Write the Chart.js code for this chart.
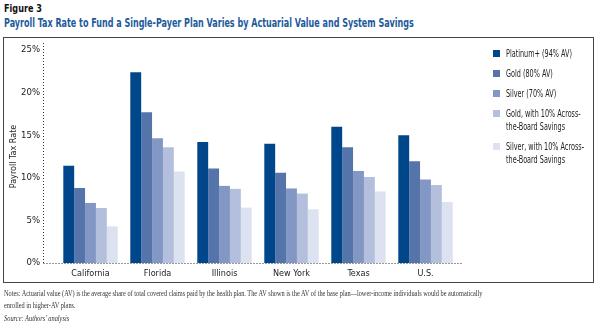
<!DOCTYPE html>
<html>
<head>
<meta charset="utf-8">
<script src="https://cdn.jsdelivr.net/npm/chart.js@4"></script>
<style>
    html, body { margin: 0; padding: 0; background: #fff; }
    #wrap { position: relative; width: 600px; height: 323px; overflow: hidden; }
    #chart { position: absolute; left: 0; top: 0; }
    .narrow { font-family: "Liberation Sans Narrow", "DejaVu Sans Condensed", sans-serif; }
    .squeeze { transform-origin: 0 0; white-space: nowrap; }
    #fig { position: absolute; left: 4px; top: 2px; font: bold 11px "DejaVu Sans Condensed", sans-serif; color: #111; transform: scaleX(0.82); }
    #title { position: absolute; left: 4px; top: 16px; font: bold 11.5px "DejaVu Sans Condensed", sans-serif; color: #1d5a9c; transform: scaleX(0.775); }
    #box { position: absolute; left: 3px; top: 37px; width: 589px; height: 244px; border: 1.5px solid #444; }
    #legend { position: absolute; left: 493px; top: 47px; font-size: 10px; color: #222; line-height: 13px; }
    #legend .item { position: relative; margin-bottom: 7px; height: 13px; }
    #legend .item.two { height: 26px; }
    #legend .sw { position: absolute; left: 0; top: 3px; width: 7px; height: 7px; }
    #legend .txt { position: absolute; left: 13px; top: 0; transform: scaleX(0.72); transform-origin: 0 0; white-space: nowrap; }
    #notes { position: absolute; left: 4px; top: 288px; font: 8px "Liberation Serif", serif; color: #333; line-height: 12px; transform: scaleX(0.79); }
    #source { position: absolute; left: 4px; top: 314px; font: italic 7.5px "Liberation Serif", serif; color: #333; transform: scaleX(0.85); }
</style>
</head>
<body>
<div id="wrap">
    <div id="fig" class="squeeze">Figure 3</div>
    <div id="title" class="squeeze">Payroll Tax Rate to Fund a Single-Payer Plan Varies by Actuarial Value and System Savings</div>
    <div id="box"></div>
    <canvas id="chart" width="600" height="323"></canvas>
    <div id="legend" class="narrow"></div>
    <div id="notes" class="squeeze">Notes: Actuarial value (AV) is the average share of total covered claims paid by the health plan. The AV shown is the AV of the base plan—lower-income individuals would be automatically<br>enrolled in higher-AV plans.</div>
    <div id="source" class="squeeze">Source: Authors’ analysis</div>
</div>
<script>
const states = ['California', 'Florida', 'Illinois', 'New York', 'Texas', 'U.S.'];

const platinum = [11.4, 22.4, 14.2, 14.0, 16.0, 15.0];
const gold = [8.8, 17.7, 11.1, 10.6, 13.6, 11.95];
const silver = [7.05, 14.65, 9.05, 8.75, 10.8, 9.8];
const goldSavings = [6.45, 13.6, 8.7, 8.15, 10.1, 9.15];
const silverSavings = [4.3, 10.75, 6.5, 6.3, 8.4, 7.15];

const seriesNames = [
    ['Platinum+ (94% AV)'],
    ['Gold (80% AV)'],
    ['Silver (70% AV)'],
    ['Gold, with 10% Across-', 'the-Board Savings'],
    ['Silver, with 10% Across-', 'the-Board Savings']
];
const seriesColors = ['#00468a', '#5574aa', '#8297c4', '#b3bfdc', '#dce2f0'];
const seriesData = [platinum, gold, silver, goldSavings, silverSavings];

const yTicks = [0, 5, 10, 15, 20, 25];

const narrow = '"Liberation Sans Narrow", "DejaVu Sans Condensed", sans-serif';

// dotted axes that run a little past the bars on both sides
const dottedAxes = {
    id: 'dottedAxes',
    beforeDatasetsDraw(chart) {
        const { ctx, chartArea, scales } = chart;
        const y0 = scales.y.getPixelForValue(0);
        const yTop = scales.y.getPixelForValue(25) - 7;
        const xLeft = chartArea.left - 13.5;
        ctx.save();
        ctx.strokeStyle = '#333';
        ctx.lineWidth = 1;
        ctx.setLineDash([1, 2]);
        ctx.beginPath();
        ctx.moveTo(xLeft, yTop);
        ctx.lineTo(xLeft, y0);
        ctx.moveTo(xLeft, y0 + 0.5);
        ctx.lineTo(chartArea.right + 4, y0 + 0.5);
        ctx.stroke();
        ctx.restore();
    }
};

const legendEl = document.getElementById('legend');
seriesNames.forEach((lines, i) => {
    const item = document.createElement('div');
    item.className = lines.length > 1 ? 'item two' : 'item';
    item.innerHTML = '<span class="sw" style="background:' + seriesColors[i] + '"></span>' +
        '<span class="txt">' + lines.join('<br>') + '</span>';
    legendEl.appendChild(item);
});

const ctx = document.getElementById('chart').getContext('2d');
new Chart(ctx, {
    type: 'bar',
    data: {
        labels: states,
        datasets: seriesData.map((values, i) => ({
            label: seriesNames[i].join(' '),
            data: values,
            backgroundColor: seriesColors[i],
            borderWidth: 0,
            categoryPercentage: 0.812,
            barPercentage: 1
        }))
    },
    options: {
        responsive: false,
        animation: false,
        layout: { padding: { left: 0, top: 50, right: 141, bottom: 40 } },
        scales: {
            x: {
                grid: { display: false, drawTicks: false },
                border: { display: false },
                ticks: { padding: 5, color: '#222', font: { family: narrow, size: 9 } },
                afterFit(scale) { scale.height = 20; }
            },
            y: {
                min: 0,
                max: 25,
                grid: { display: false, drawTicks: false },
                border: { display: false },
                afterBuildTicks(scale) { scale.ticks = yTicks.map(v => ({ value: v })); },
                ticks: {
                    padding: 17,
                    color: '#222',
                    font: { family: narrow, size: 9.5 },
                    callback: v => v + '%'
                },
                title: {
                    display: true,
                    text: 'Payroll Tax Rate',
                    color: '#222',
                    font: { family: narrow, size: 9 },
                    padding: { top: 8, bottom: 0 }
                },
                afterFit(scale) { scale.width = 57; }
            }
        },
        plugins: {
            legend: { display: false },
            tooltip: { enabled: false }
        }
    },
    plugins: [dottedAxes]
});
</script>
</body>
</html>
